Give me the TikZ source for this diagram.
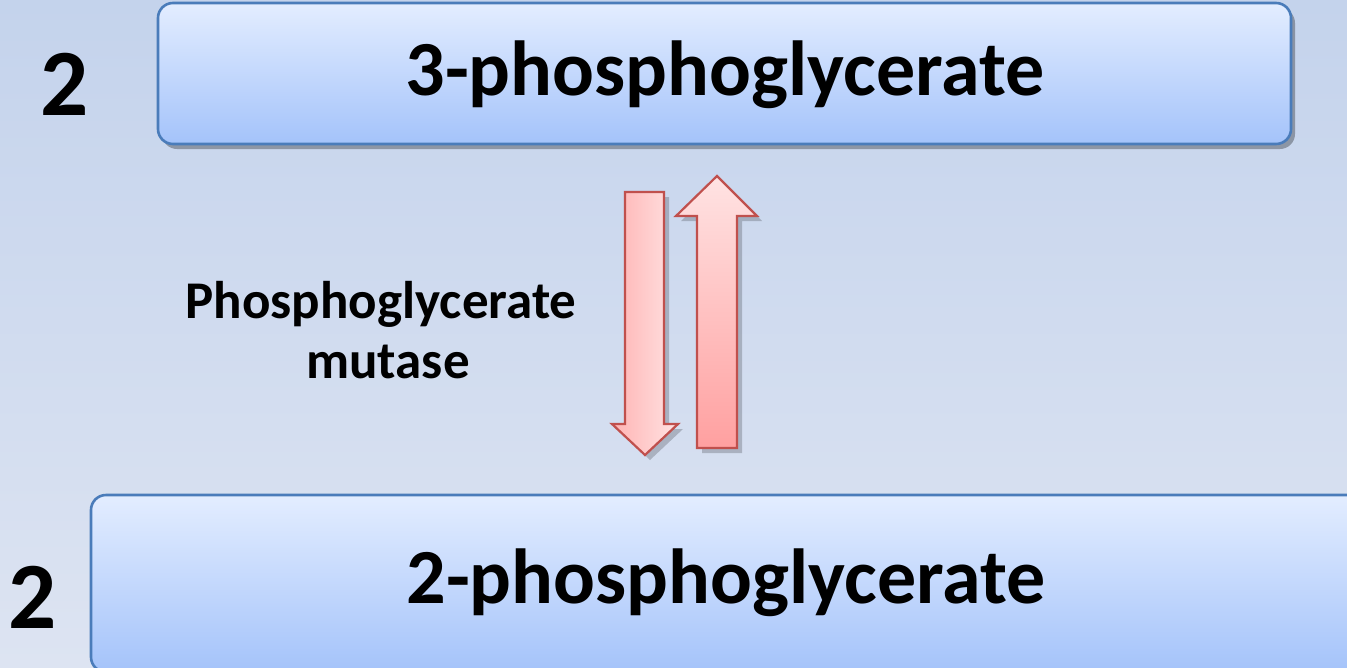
\documentclass[tikz,border=0pt]{standalone}
\usepackage{fontspec}
\setmainfont{Carlito}
\usetikzlibrary{shadows}
\definecolor{bgtop}{RGB}{196,211,236}
\definecolor{bgbot}{RGB}{221,228,242}
\definecolor{boxtop}{RGB}{227,237,255}
\definecolor{boxbot}{RGB}{164,195,250}
\definecolor{boxline}{RGB}{74,124,186}
\definecolor{arrline}{RGB}{192,80,77}
\definecolor{arrlight}{RGB}{255,227,227}
\definecolor{arrdark}{RGB}{255,160,160}
\tikzset{
  box/.style={draw=boxline, line width=2.6pt, rounded corners=15pt, top color=boxtop, bottom color=boxbot,
    drop shadow={shadow xshift=4pt, shadow yshift=-5pt, fill=black, opacity=0.3}},
  bigtext/.style={font=\fontsize{78}{80}\selectfont\bfseries, inner sep=0pt, anchor=base},
  numtext/.style={font=\fontsize{95}{100}\selectfont\bfseries, inner sep=0pt, anchor=base},
  labtext/.style={font=\fontsize{53}{70}\selectfont\bfseries, inner sep=0pt, anchor=base},
  arr/.style={draw=arrline, line width=2.2pt, line join=miter,
    drop shadow={shadow xshift=5pt, shadow yshift=-5pt, fill=black, opacity=0.2}},
}
\begin{document}
\begin{tikzpicture}[x=1pt,y=-1pt]
\useasboundingbox (0,0) rectangle (1347,667);
\shade[top color=bgtop, bottom color=bgbot] (0,0) rectangle (1347,667);
\begin{scope}
\clip (0,0) rectangle (1347,667);
\path[box] (158,3) rectangle (1291,144);
\path[box] (91,495) rectangle (1362,672);
\end{scope}
\node[bigtext] (t3) at (725,95) {3-phosphoglycerate};
\node[bigtext] (t2) at (726,603) {2-phosphoglycerate};
\node[numtext] (n1) at (65,115) {2};
\node[numtext] (n2) at (32.5,628) {2};
\node[labtext] (l1) at (381,318) {Phosphoglycerate};
\node[labtext] (l2) at (388,378) {mutase};
% down arrow
\path[arr, left color=arrdark!80, right color=arrlight]
  (625,192) -- (664,192) -- (664,424) -- (678,424) -- (645,455) -- (612,424) -- (625,424) -- cycle;
% up arrow
\path[arr, top color=arrlight, bottom color=arrdark]
  (697,448) -- (737,448) -- (737,216) -- (757,216) -- (717,176) -- (676,216) -- (697,216) -- cycle;
\end{tikzpicture}
\end{document}
